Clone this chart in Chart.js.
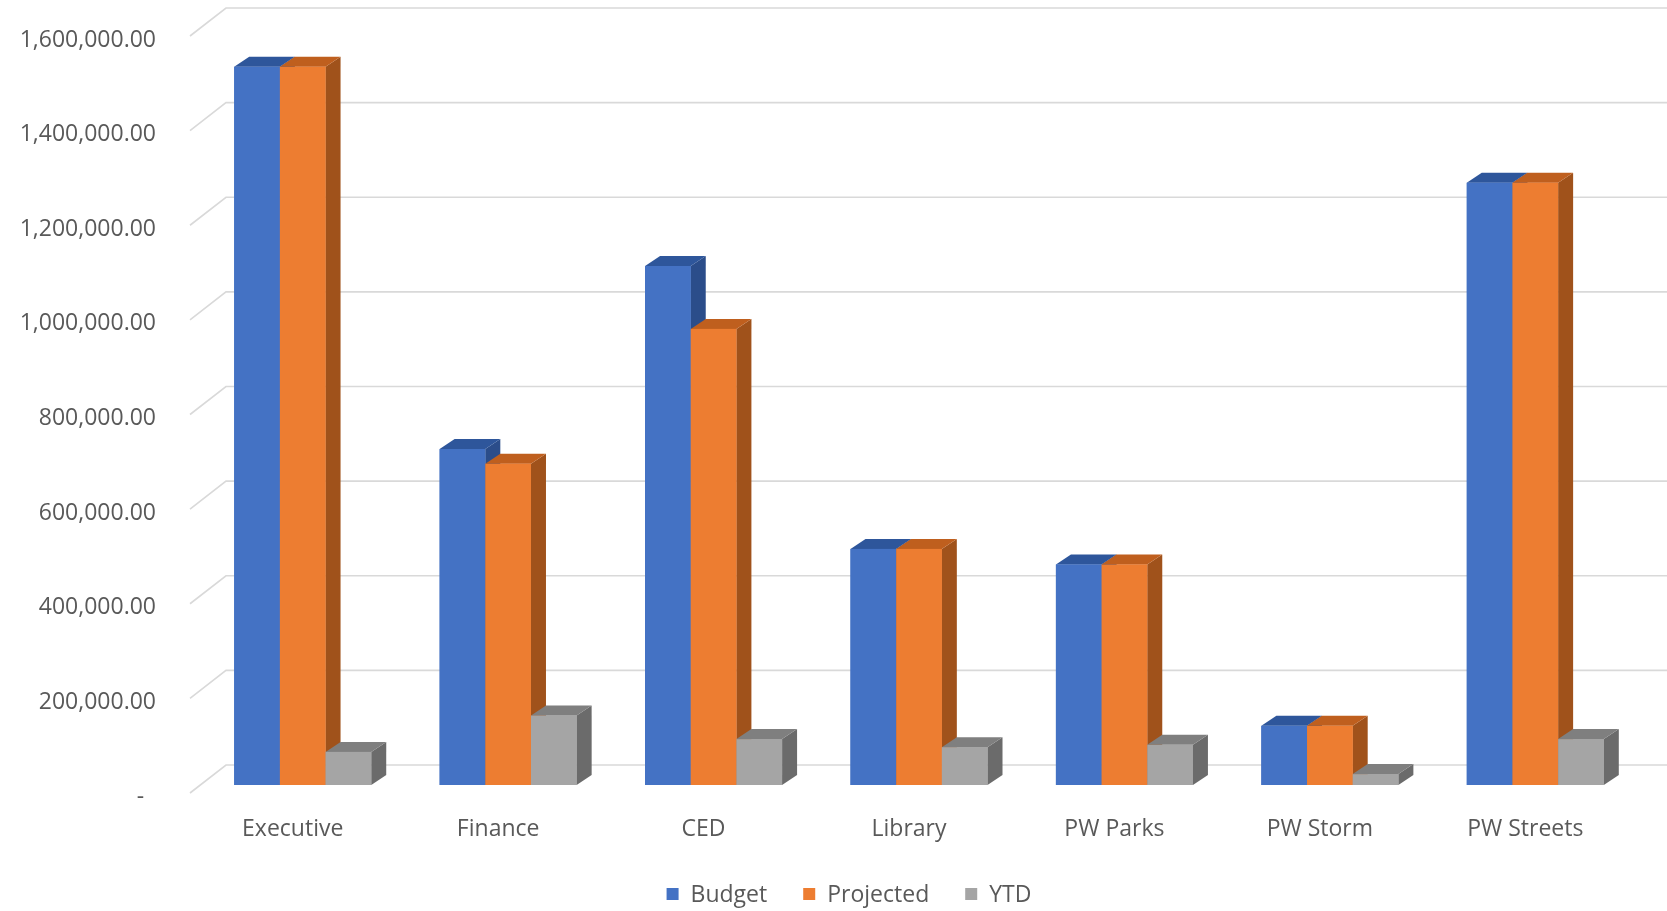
<!DOCTYPE html>
<html>
<head>
<meta charset="utf-8">
<title>Department spending</title>
<script src="https://cdn.jsdelivr.net/npm/chart.js@4.4.1/dist/chart.umd.min.js"></script>
<style>
  html, body { margin: 0; padding: 0; background: #ffffff; }
  #wrap { width: 1667px; height: 911px; }
</style>
</head>
<body>
<div id="wrap"><canvas id="chart" width="1667" height="911"></canvas></div>
<script>
// departments and series
var departments = ['Executive', 'Finance', 'CED', 'Library', 'PW Parks', 'PW Storm', 'PW Streets'];
var budget    = [1518000, 710000, 1097000, 499000, 466000, 125000, 1273000];
var projected = [1518000, 679000,  964000, 499000, 466000, 125000, 1273000];
var ytd       = [  70000, 147000,   97000,  80000,  85000,  23000,   97000];

// value axis: 0 .. 1,600,000 in steps of 200,000
var yMin = 0;
var yMax = 1600000;
var yStep = 200000;

var seriesNames = ['Budget', 'Projected', 'YTD'];
var frontColors = ['#4472C4', '#ED7D31', '#A5A5A5'];
var topColors   = ['#2E569B', '#BF5F1E', '#7F7F7F'];
var sideColors  = ['#2B4D8A', '#A0521B', '#6B6B6B'];

var FONT = { family: "'Open Sans', 'Noto Sans', sans-serif", size: 23 };
var TEXT = '#595959';

// depth of each column and of the walls, in pixels
var BAR_DX = 15, BAR_DY = -10;
var WALL_BACK_DX = 26, WALL_BACK_DY = -20;
var WALL_FRONT_DX = -10, WALL_FRONT_DY = 8;

var fmt = function(v) {
    if (v === 0) return '-  ';
    return v.toLocaleString('en-US', { minimumFractionDigits: 2, maximumFractionDigits: 2 });
};

var depth3d = {
    id: 'depth3d',
    beforeDatasetsDraw: function(chart) {
        var ctx = chart.ctx;
        var ys = chart.scales.y;
        var left = chart.chartArea.left;
        ctx.save();
        ctx.strokeStyle = '#D9D9D9';
        ctx.lineWidth = 1.6;
        ys.ticks.forEach(function(t) {
            var py = ys.getPixelForValue(t.value);
            ctx.beginPath();
            ctx.moveTo(left + WALL_FRONT_DX, py + WALL_FRONT_DY);
            ctx.lineTo(left + WALL_BACK_DX, py + WALL_BACK_DY);
            ctx.lineTo(chart.width, py + WALL_BACK_DY);
            ctx.stroke();
        });
        ctx.restore();
    },
    afterDatasetsDraw: function(chart) {
        var ctx = chart.ctx;
        var n = chart.data.labels.length;
        ctx.save();
        for (var i = 0; i < n; i++) {
            for (var d = 0; d < chart.data.datasets.length; d++) {
                var el = chart.getDatasetMeta(d).data[i];
                var l = el.x - el.width / 2, r = el.x + el.width / 2;
                var top = el.y, base = el.base;

                // right side
                ctx.fillStyle = sideColors[d];
                ctx.beginPath();
                ctx.moveTo(r, base);
                ctx.lineTo(r + BAR_DX, base + BAR_DY);
                ctx.lineTo(r + BAR_DX, top + BAR_DY);
                ctx.lineTo(r, top);
                ctx.closePath();
                ctx.fill();

                // top
                ctx.fillStyle = topColors[d];
                ctx.beginPath();
                ctx.moveTo(l, top);
                ctx.lineTo(l + BAR_DX, top + BAR_DY);
                ctx.lineTo(r + BAR_DX, top + BAR_DY);
                ctx.lineTo(r, top);
                ctx.closePath();
                ctx.fill();

                // front
                ctx.fillStyle = frontColors[d];
                ctx.fillRect(l, top, r - l, base - top);
            }
        }
        ctx.restore();
    }
};

// legend row under the axis labels
var legendRow = {
    id: 'legendRow',
    afterDraw: function(chart) {
        var ctx = chart.ctx;
        var box = 12, gap = 12, spacing = 36;
        var cx = 849, cy = 894;
        ctx.save();
        ctx.font = FONT.size + 'px ' + FONT.family;
        ctx.textBaseline = 'middle';
        ctx.textAlign = 'left';
        var items = chart.data.datasets.map(function(ds) {
            return { text: ds.label, color: ds.backgroundColor, w: box + gap + ctx.measureText(ds.label).width };
        });
        var total = items.reduce(function(s, it) { return s + it.w; }, 0) + spacing * (items.length - 1);
        var x = cx - total / 2;
        items.forEach(function(it) {
            ctx.fillStyle = it.color;
            ctx.fillRect(x, cy - box / 2, box, box);
            ctx.fillStyle = TEXT;
            ctx.fillText(it.text, x + box + gap, cy + 1);
            x += it.w + spacing;
        });
        ctx.restore();
    }
};

var datasets = [budget, projected, ytd].map(function(values, k) {
    return {
        label: seriesNames[k],
        data: values,
        backgroundColor: frontColors[k],
        borderWidth: 0,
        barPercentage: 1.0,
        categoryPercentage: 0.667
    };
});

var ctx = document.getElementById('chart').getContext('2d');
var chart = new Chart(ctx, {
    type: 'bar',
    data: { labels: departments, datasets: datasets },
    plugins: [depth3d, legendRow],
    options: {
        responsive: false,
        animation: false,
        devicePixelRatio: 1,
        layout: { padding: { left: 0, right: 29, top: 28, bottom: 68 } },
        plugins: {
            legend: { display: false },
            tooltip: { enabled: false }
        },
        scales: {
            x: {
                grid: { display: false, drawTicks: false },
                border: { display: false },
                ticks: { color: TEXT, font: FONT, padding: 31, labelOffset: -10 },
                afterFit: function(s) {
                    s.height = 58;
                    s.paddingLeft = 0;
                    s.paddingRight = 0;
                }
            },
            y: {
                min: yMin,
                max: yMax,
                grid: { display: false, drawTicks: false },
                border: { display: false },
                ticks: {
                    stepSize: yStep,
                    color: TEXT,
                    font: FONT,
                    padding: 44,
                    labelOffset: 12,
                    callback: fmt
                },
                afterFit: function(s) {
                    s.width = 200;
                    s.paddingTop = 0;
                    s.paddingBottom = 0;
                }
            }
        }
    }
});
</script>
</body>
</html>
